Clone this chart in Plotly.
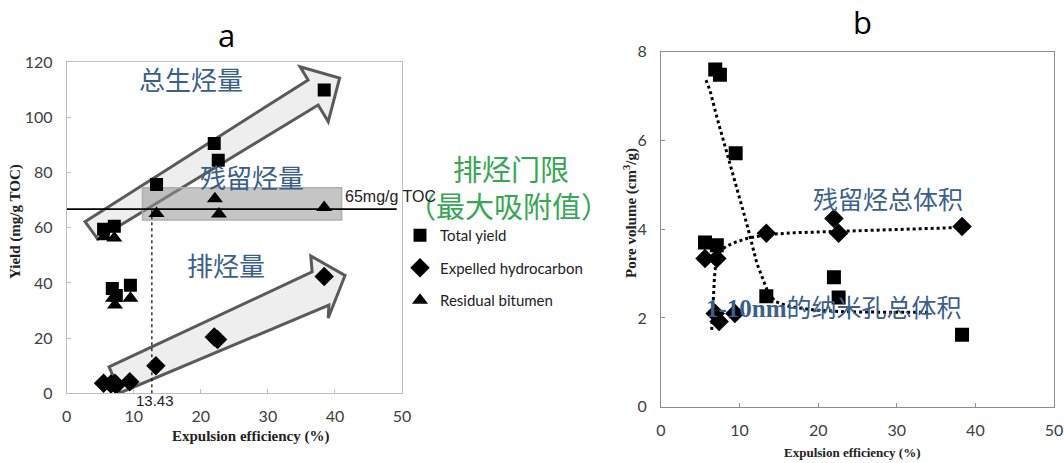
import plotly.graph_objects as go

# ---------------- data: panel a ----------------
total_x = [5.5, 7.1, 6.8, 7.4, 9.5, 13.4, 22.0, 22.6, 38.4]
total_y = [59.5, 60.6, 38.0, 35.5, 39.2, 75.7, 90.6, 84.5, 110.0]
expelled_x = [5.5, 6.6, 7.2, 7.4, 9.4, 13.3, 22.0, 22.5, 38.4]
expelled_y = [3.6, 3.4, 3.6, 3.0, 4.2, 10.0, 20.4, 19.5, 42.3]
residual_x = [5.6, 7.1, 6.9, 7.2, 9.5, 13.4, 22.1, 22.7, 38.4]
residual_y = [56.8, 56.3, 34.5, 32.0, 34.5, 65.2, 70.5, 65.0, 67.4]

threshold_y = 66.8
threshold_line_x = [0, 49.2]
threshold_label = "65mg/g TOC"
cut_x = 12.7
cut_label = "13.43"
band_x = [11.3, 41.0]
band_y = [62.8, 74.5]

# arrows (data coordinates of panel a)
arrow_up_x = [2.73, 36.0, 34.8, 40.7, 39.0, 37.5, 4.62]
arrow_up_y = [62.2, 113.6, 118.4, 114.3, 98.5, 104.5, 55.9]
arrow_lo_x = [6.31, 36.6, 36.4, 41.5, 39.0, 39.1, 8.0]
arrow_lo_y = [9.6, 44.0, 49.8, 42.7, 27.3, 32.0, 0.2]

# ---------------- data: panel b ----------------
pore_sq_x = [5.6, 6.9, 7.5, 7.1, 9.5, 13.4, 22.0, 22.6, 38.3]
pore_sq_y = [3.70, 7.60, 7.48, 3.64, 5.71, 2.49, 2.92, 2.46, 1.62]
pore_di_x = [5.6, 7.1, 6.9, 7.4, 9.4, 13.4, 22.0, 22.6, 38.3]
pore_di_y = [3.34, 3.34, 2.10, 1.92, 2.10, 3.91, 4.24, 3.91, 4.06]

trend_sq_x = [5.73, 6.23, 7.1, 8.56, 9.7, 10.9, 12.2, 13.5, 14.5, 16.5, 19.5, 23.2, 28.0, 34.0]
trend_sq_y = [7.36, 7.13, 6.53, 5.63, 4.88, 4.13, 3.23, 2.63, 2.37, 2.25, 2.18, 2.14, 2.13, 2.13]
trend_di_x = [6.45, 6.6, 6.8, 7.0, 7.3, 7.8, 8.4, 9.5, 10.9, 13.45, 17.0, 22.35, 30.0, 38.3]
trend_di_y = [1.73, 2.3, 2.9, 3.3, 3.45, 3.55, 3.62, 3.71, 3.79, 3.88, 3.92, 3.95, 4.0, 4.04]

xticks = [0, 10, 20, 30, 40, 50]
yticks_a = [0, 20, 40, 60, 80, 100, 120]
yticks_b = [0, 2, 4, 6, 8]

W, H = 1064, 463
BLUE = "#3a5f8c"
GREEN = "#35a853"
CJK = "Noto Sans CJK SC"

fig = go.Figure()

mk = dict(color="black", line=dict(width=0))
fig.add_trace(go.Scatter(x=total_x, y=total_y, mode="markers", name="Total yield",
                         marker=dict(symbol="square", size=13, **mk), xaxis="x", yaxis="y",
                         legendgroup="a"))
fig.add_trace(go.Scatter(x=expelled_x, y=expelled_y, mode="markers", name="Expelled hydrocarbon",
                         marker=dict(symbol="diamond", size=15, **mk), xaxis="x", yaxis="y",
                         legendgroup="b"))
fig.add_trace(go.Scatter(x=residual_x, y=residual_y, mode="markers", name="Residual bitumen",
                         marker=dict(symbol="triangle-up", size=14, **mk), xaxis="x", yaxis="y",
                         legendgroup="c"))

# panel b
fig.add_trace(go.Scatter(x=trend_sq_x, y=trend_sq_y, mode="lines", showlegend=False,
                         line=dict(color="black", width=3, dash="dot"), xaxis="x2", yaxis="y2"))
fig.add_trace(go.Scatter(x=trend_di_x, y=trend_di_y, mode="lines", showlegend=False,
                         line=dict(color="black", width=3, dash="dot"), xaxis="x2", yaxis="y2"))
fig.add_trace(go.Scatter(x=pore_sq_x, y=pore_sq_y, mode="markers", showlegend=False,
                         marker=dict(symbol="square", size=14, **mk), xaxis="x2", yaxis="y2"))
fig.add_trace(go.Scatter(x=pore_di_x, y=pore_di_y, mode="markers", showlegend=False,
                         marker=dict(symbol="diamond", size=15, **mk), xaxis="x2", yaxis="y2"))


def poly(xs, ys):
    return "M " + " L ".join(f"{a},{b}" for a, b in zip(xs, ys)) + " Z"


shapes = [
    dict(type="path", path=poly(arrow_up_x, arrow_up_y), xref="x", yref="y",
         fillcolor="rgba(235,235,235,0.85)", line=dict(color="#5a5a5a", width=3), layer="below"),
    dict(type="path", path=poly(arrow_lo_x, arrow_lo_y), xref="x", yref="y",
         fillcolor="rgba(235,235,235,0.85)", line=dict(color="#5a5a5a", width=3), layer="below"),
    dict(type="rect", x0=band_x[0], x1=band_x[1], y0=band_y[0], y1=band_y[1], xref="x", yref="y",
         fillcolor="rgba(150,150,150,0.55)", line=dict(color="#b0b0b0", width=1.5), layer="below"),
    dict(type="line", x0=threshold_line_x[0], x1=threshold_line_x[1], y0=threshold_y, y1=threshold_y,
         xref="x", yref="y", line=dict(color="black", width=1.8)),
    dict(type="line", x0=cut_x, x1=cut_x, y0=0, y1=threshold_y, xref="x", yref="y",
         line=dict(color="black", width=1.2, dash="dot")),
]

ann = [
    dict(text="a", x=226, y=35, font=dict(family="Open Sans", size=31, color="black")),
    dict(text="b", x=862, y=22, font=dict(family="Open Sans", size=31, color="black")),
    dict(text="总生烃量", x=191, y=78, font=dict(family=CJK, size=26, color=BLUE)),
    dict(text="残留烃量", x=252, y=177, font=dict(family=CJK, size=26, color=BLUE)),
    dict(text="排烃量", x=226, y=264, font=dict(family=CJK, size=26, color=BLUE)),
    dict(text="排烃门限", x=511, y=168, font=dict(family=CJK, size=29, color=GREEN)),
    dict(text="（最大吸附值）", x=508, y=205, font=dict(family=CJK, size=29, color=GREEN)),
    dict(text="残留烃总体积", x=888, y=198, font=dict(family=CJK, size=25, color=BLUE)),
    dict(text="<b>1-10nm</b>的纳米孔总体积", x=834, y=308,
         font=dict(family="Liberation Serif, " + CJK, size=25, color=BLUE)),
    dict(text=threshold_label, x=343, y=197, xanchor="left",
         font=dict(family="Liberation Sans", size=16, color="#222")),
    dict(text=cut_label, x=155, y=400, font=dict(family="Liberation Sans", size=15, color="#222")),
    dict(text="<b>Expulsion efficiency (%)</b>", x=251, y=436,
         font=dict(family="Liberation Serif", size=15, color="#222")),
    dict(text="<b>Expulsion efficiency (%)</b>", x=852, y=452,
         font=dict(family="Liberation Serif", size=13, color="#222")),
    dict(text="<b>Yield (mg/g TOC)</b>", x=16, y=222, textangle=-90,
         font=dict(family="Liberation Serif", size=15, color="#222")),
    dict(text="<b>Pore volume (cm<sup>3</sup>/g)</b>", x=631, y=213, textangle=-90,
         font=dict(family="Liberation Serif", size=15, color="#222")),
]
annotations = []
for a in ann:
    d = dict(xref="paper", yref="paper", showarrow=False, xanchor=a.get("xanchor", "center"),
             yanchor="middle", text=a["text"], x=a["x"] / W, y=1 - a["y"] / H, font=a["font"])
    if "textangle" in a:
        d["textangle"] = a["textangle"]
    annotations.append(d)

tickfont = dict(family="Lato", size=16, color="#404040")
axcommon = dict(showgrid=False, zeroline=False, showline=True, mirror=True, ticks="inside",
                ticklen=4, tickfont=tickfont, automargin=False)

fig.update_layout(
    width=W, height=H, margin=dict(l=0, r=0, t=0, b=0, autoexpand=False),
    paper_bgcolor="white", plot_bgcolor="white",
    xaxis=dict(domain=[66.7 / W, 402 / W], range=[0, 50], tickvals=xticks,
               linecolor="#bfbfbf", tickcolor="#bfbfbf", anchor="y", ticklabelstandoff=8,
               **axcommon),
    yaxis=dict(domain=[1 - 393.3 / H, 1 - 62.3 / H], range=[0, 120], tickvals=yticks_a,
               linecolor="#bfbfbf", tickcolor="#bfbfbf", anchor="x", ticklabelstandoff=10,
               **axcommon),
    xaxis2=dict(domain=[661 / W, 1054 / W], range=[0, 50], tickvals=xticks,
                linecolor="#8c8c8c", tickcolor="#8c8c8c", anchor="y2", ticklabelstandoff=9,
                **axcommon),
    yaxis2=dict(domain=[1 - 406.7 / H, 1 - 51.7 / H], range=[0, 8], tickvals=yticks_b,
                linecolor="#8c8c8c", tickcolor="#8c8c8c", anchor="x2", ticklabelstandoff=10,
                **axcommon),
    shapes=shapes, annotations=annotations,
    showlegend=True,
    legend=dict(x=400 / W, y=1 - 219 / H, xanchor="left", yanchor="top", bgcolor="rgba(0,0,0,0)",
                font=dict(family="Lato", size=15, color="#222"), tracegroupgap=10,
                itemwidth=30),
)

fig.write_html("out.html", config={"displayModeBar": False},
               post_script="document.body.style.margin='0px';document.body.style.overflow='hidden';")
